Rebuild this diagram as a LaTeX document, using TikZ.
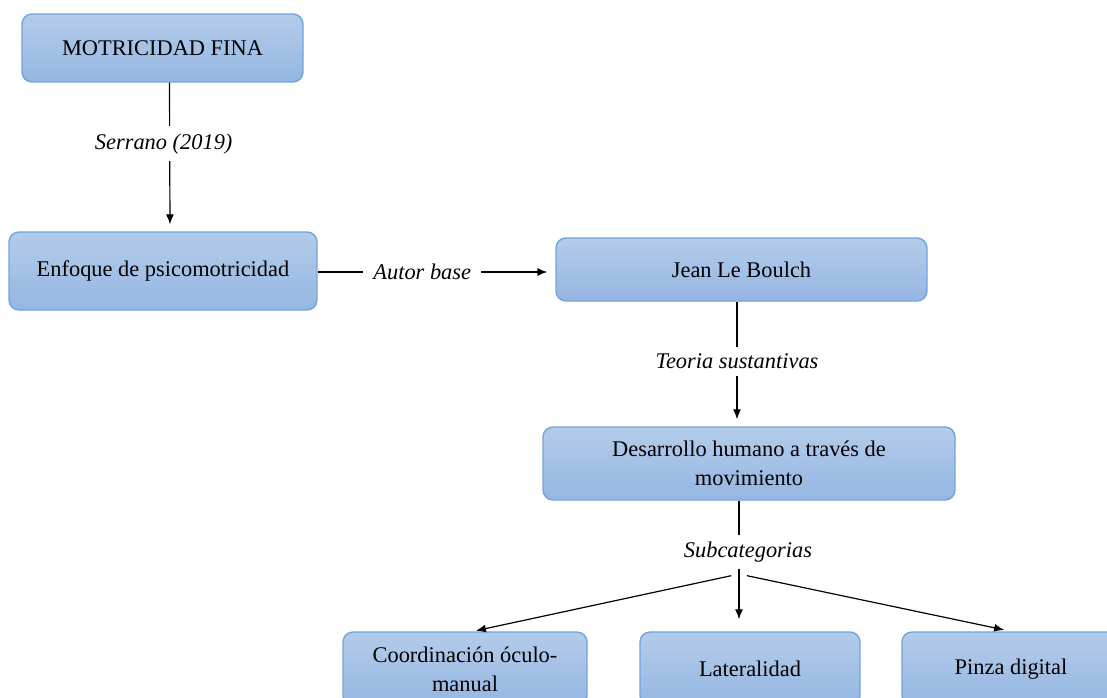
\documentclass[tikz,border=0pt]{standalone}
\usepackage{fontspec}
\setmainfont{Liberation Serif}
\usetikzlibrary{positioning,calc,arrows.meta}
\definecolor{cajatop}{HTML}{B4CCEB}
\definecolor{cajabot}{HTML}{94B6E1}
\definecolor{cajaborde}{HTML}{72A4DA}

\begin{document}
\begin{tikzpicture}
   [x=0.5pt,y=-0.5pt,
    caja/.style={rectangle,draw=cajaborde,line width=0.7pt,rounded corners=5pt,
	 top color=cajatop,bottom color=cajabot,align=center,inner sep=2pt,
	 font=\fontsize{11.2}{14.5}\selectfont},
	etiq/.style={fill=white,inner xsep=5pt,inner ysep=3.5pt,font=\fontsize{11.2}{13}\selectfont\itshape},
	flecha/.style={-{Latex[length=5pt,width=4pt]},line width=0.6pt}]

\useasboundingbox (0,0) rectangle (1107,697);

\node [caja,minimum width=140.5pt,minimum height=34pt] (mf) at (162.5,48) {MOTRICIDAD FINA};
\node [caja,minimum width=154pt,minimum height=39pt] (enf) at (163,271) {Enfoque de psicomotricidad};
\node [caja,minimum width=185.5pt,minimum height=31.5pt] (jlb) at (741.5,269.5) {Jean Le Boulch};
\node [caja,minimum width=206pt,minimum height=36.5pt] (des) at (749,463.5)
	{Desarrollo humano a través de\\ movimiento};
\node [caja,minimum width=122pt,minimum height=37pt] (coo) at (465,669) {Coordinación óculo-\\ manual};
\node [caja,minimum width=110pt,minimum height=37pt] (lat) at (750,669) {Lateralidad};
\node [caja,minimum width=109pt,minimum height=37pt] (pin) at (1011,669) {Pinza digital};
\coordinate (hub) at (739,574);

\draw [flecha,shorten >=3.5pt] ([xshift=3.5pt]mf.south) -- node [etiq,pos=0.41,xshift=-3pt] {Serrano (2019)}
		([xshift=3.5pt]enf.north);
\draw [flecha,shorten >=4pt] ([yshift=-0.5pt]enf.east) -- node [etiq,pos=0.44] {Autor base}
		([yshift=-0.5pt]enf.east -| jlb.west);
\draw [flecha,shorten >=3.5pt] ([xshift=-2.25pt]jlb.south) -- node [etiq,pos=0.48] {Teoria sustantivas}
		([xshift=-2.25pt]jlb.south |- des.north);
\draw [line width=0.6pt] ([xshift=-5pt]des.south) -- node [etiq,pos=0.7,xshift=4.5pt] {Subcategorias} (hub);
\draw [flecha,shorten <=4pt,shorten >=1.5pt] (hub) -- ([xshift=4pt]coo.north);
\draw [flecha,shorten >=6pt] (hub) -- ([xshift=-5.5pt]lat.north);
\draw [flecha,shorten <=4pt,shorten >=3.5pt] (hub) -- (pin.north);
\end{tikzpicture}
\end{document}
